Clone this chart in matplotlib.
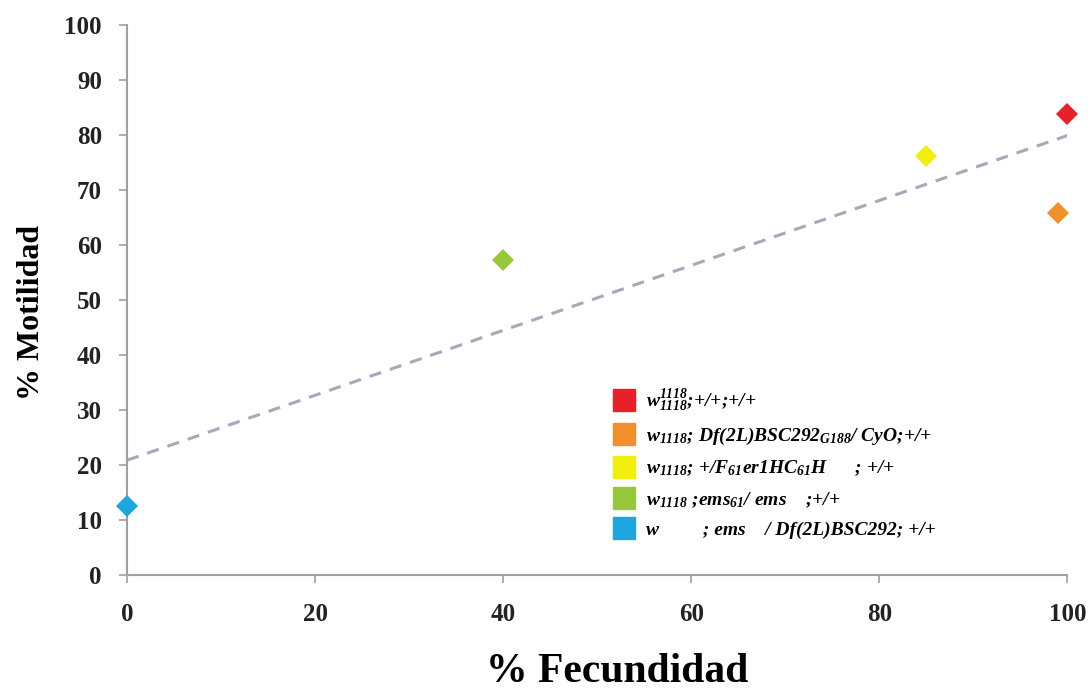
import numpy as np
import matplotlib
matplotlib.use('Agg')
import matplotlib.pyplot as plt
from matplotlib.lines import Line2D

# values
fecundidad = [100, 99, 85, 40, 0]
motilidad = [83.8, 65.8, 76.2, 57.2, 12.6]
colores = ['#E8202A', '#F0902A', '#F2EE10', '#96C83A', '#1CA6E0']
etiquetas = [
    r'w$^{1118}_{1118}$;+/+;+/+',
    r'w$_{1118}$; Df(2L)BSC292$_{G188}$/ CyO;+/+',
    r'w$_{1118}$; +/F$_{61}$er1HC$_{61}$H      ; +/+',
    r'w$_{1118}$ ;ems$_{61}$/ ems    ;+/+',
    r'w         ; ems    / Df(2L)BSC292; +/+',
]
xticks = [0, 20, 40, 60, 80, 100]
yticks = [0, 10, 20, 30, 40, 50, 60, 70, 80, 90, 100]

plt.rcParams['font.family'] = ['Liberation Serif', 'DejaVu Serif']
plt.rcParams['mathtext.fontset'] = 'custom'
plt.rcParams['mathtext.rm'] = 'Liberation Serif:bold:italic'
plt.rcParams['mathtext.it'] = 'Liberation Serif:bold:italic'
plt.rcParams['mathtext.bf'] = 'Liberation Serif:bold:italic'

fig = plt.figure(figsize=(10.91, 6.92), dpi=100)
ax = fig.add_axes([0.1164, 0.169, 0.862, 0.795])

# linear trend line
m, b = np.polyfit(fecundidad, motilidad, 1)
xs = np.array([0, 100])
ax.plot(xs, m * xs + b, linestyle=(0, (4, 3)), color='#A8A8BC', linewidth=2.2, zorder=1)

for x, y, c in zip(fecundidad, motilidad, colores):
    ax.plot(x, y, marker='D', markersize=11, color=c, markeredgewidth=0,
            linestyle='none', zorder=3, clip_on=False)

ax.set_xlim(0, 100)
ax.set_ylim(0, 100)
ax.set_xticks(xticks)
ax.set_yticks(yticks)
for lab in ax.get_xticklabels() + ax.get_yticklabels():
    lab.set_fontweight('bold')
    lab.set_fontsize(18)
    lab.set_color('#222222')

for s in ['top', 'right']:
    ax.spines[s].set_visible(False)
for s in ['left', 'bottom']:
    ax.spines[s].set_color('#A0A0A0')
    ax.spines[s].set_linewidth(1.5)
ax.tick_params(colors='#A0A0A0', width=1.2, length=6, labelcolor='#222222')
ax.tick_params(axis='x', pad=14)
ax.tick_params(axis='y', pad=12)

fig.text(0.566, 0.014, '% Fecundidad', fontsize=30, fontweight='bold',
         ha='center', va='baseline')
ax.set_ylabel('% Motilidad', fontsize=23, fontweight='bold')
ax.yaxis.set_label_coords(-0.086, 0.478)

handles = [Line2D([], [], marker='s', markersize=16, color=c, linestyle='none')
           for c in colores]
ax.legend(handles, etiquetas, loc='upper left', bbox_to_anchor=(0.5, 0.372),
          frameon=False, handlelength=1.0, handletextpad=0.6, labelspacing=0.6,
          prop={'family': 'Liberation Serif', 'weight': 'bold', 'style': 'italic',
                'size': 14})

fig.savefig('out.png', dpi=100)
